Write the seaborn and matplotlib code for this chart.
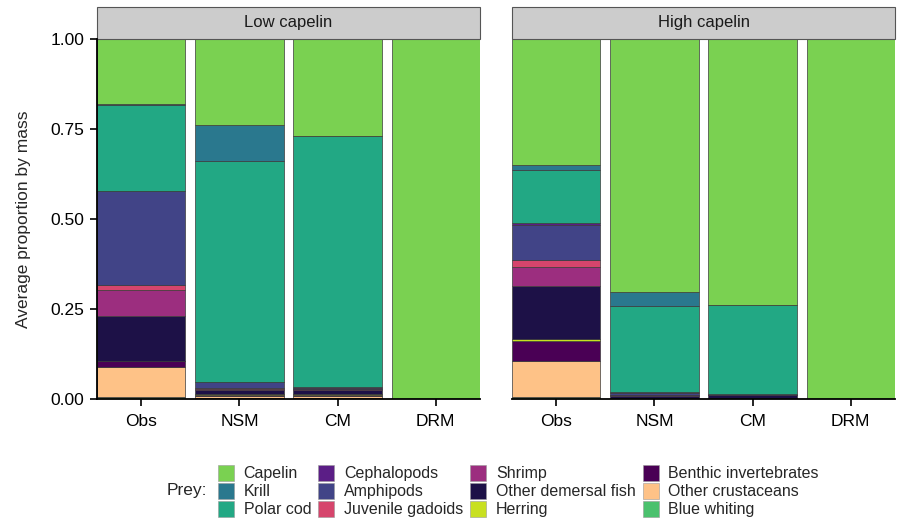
import matplotlib
matplotlib.use("Agg")
import matplotlib.pyplot as plt
from matplotlib.patches import Rectangle, Patch
import pandas as pd
import seaborn as sns

# Prey groups (legend order; first one sits on top of each stack)
prey = ["Capelin", "Krill", "Polar cod", "Cephalopods", "Amphipods",
        "Juvenile gadoids", "Shrimp", "Other demersal fish", "Herring",
        "Benthic invertebrates", "Other crustaceans", "Blue whiting"]
prey_colors = ["#7AD151", "#2A788E", "#22A884", "#5B1E86", "#414487",
               "#D6456C", "#9C2E7F", "#1D1147", "#C8E020", "#4A0055",
               "#FEC287", "#4AC16D"]

models = ["Obs", "NSM", "CM", "DRM"]
scenarios = ["Low capelin", "High capelin"]

# Average proportion by mass, one list per model, values in prey order
low_obs = [0.180, 0.002, 0.240, 0.000, 0.260, 0.016, 0.072, 0.125, 0.000, 0.017, 0.083, 0.005]
low_nsm = [0.240, 0.100, 0.612, 0.002, 0.016, 0.001, 0.005, 0.009, 0.005, 0.001, 0.006, 0.003]
low_cm = [0.270, 0.000, 0.697, 0.003, 0.001, 0.001, 0.003, 0.010, 0.005, 0.001, 0.006, 0.003]
low_drm = [1.000, 0.000, 0.000, 0.000, 0.000, 0.000, 0.000, 0.000, 0.000, 0.000, 0.000, 0.000]

high_obs = [0.350, 0.014, 0.146, 0.007, 0.097, 0.020, 0.052, 0.146, 0.006, 0.057, 0.099, 0.006]
high_nsm = [0.704, 0.039, 0.237, 0.003, 0.006, 0.001, 0.002, 0.005, 0.000, 0.001, 0.001, 0.001]
high_cm = [0.739, 0.000, 0.248, 0.001, 0.001, 0.000, 0.001, 0.008, 0.000, 0.001, 0.001, 0.000]
high_drm = [1.000, 0.000, 0.000, 0.000, 0.000, 0.000, 0.000, 0.000, 0.000, 0.000, 0.000, 0.000]

diets = {
    "Low capelin": [low_obs, low_nsm, low_cm, low_drm],
    "High capelin": [high_obs, high_nsm, high_cm, high_drm],
}

rows = []
for scen in scenarios:
    for model, vals in zip(models, diets[scen]):
        for p, v in zip(prey, vals):
            rows.append({"scenario": scen, "model": model, "prey": p, "prop": v})
df = pd.DataFrame(rows)
df["model"] = pd.Categorical(df["model"], categories=models, ordered=True)

sns.set_theme(style="ticks")
plt.rcParams["font.family"] = ["Liberation Sans", "DejaVu Sans"]
plt.rcParams["axes.edgecolor"] = "black"
plt.rcParams["xtick.color"] = "black"
plt.rcParams["ytick.color"] = "black"

W, H = 898, 519
fig = plt.figure(figsize=(W / 100, H / 100), dpi=100)

panel_lefts = [97, 512]
panel_width = 383
panel_top, panel_bottom = 39, 399
strip_h = 32

palette = dict(zip(prey, prey_colors))

for i, scen in enumerate(scenarios):
    ax = fig.add_axes([panel_lefts[i] / W, (H - panel_bottom) / H,
                       panel_width / W, (panel_bottom - panel_top) / H])
    sub = df[(df["scenario"] == scen) & (df["prop"] > 0)]
    sns.histplot(data=sub, x="model", weights="prop", hue="prey",
                 hue_order=prey, palette=palette, multiple="stack",
                 discrete=True, shrink=0.9, alpha=1, edgecolor="#3a3a3a",
                 linewidth=0.5, legend=False, ax=ax)
    ax.set_xlim(-0.45, 3.45)
    ax.set_ylim(0, 1)
    ax.set_xticks(range(len(models)))
    ax.set_xticklabels(models)
    ax.set_xlabel("")
    ax.tick_params(axis="both", length=5, width=1.2, labelsize=12.5,
                   colors="black")
    ax.tick_params(axis="x", pad=6)
    ax.tick_params(axis="y", pad=4)
    sns.despine(ax=ax)
    ax.spines["bottom"].set_linewidth(1.3)
    if i == 0:
        ax.set_yticks([0, 0.25, 0.5, 0.75, 1.0])
        ax.set_yticklabels(["0.00", "0.25", "0.50", "0.75", "1.00"])
        ax.spines["left"].set_linewidth(1.3)
        ax.set_ylabel("Average proportion by mass", fontsize=12.5, labelpad=14)
    else:
        ax.spines["left"].set_visible(False)
        ax.set_yticks([])
        ax.set_ylabel("")
    # facet strip
    sh = strip_h / (panel_bottom - panel_top)
    ax.add_patch(Rectangle((0, 1), 1, sh, transform=ax.transAxes,
                           facecolor="#CCCCCC", edgecolor="#555555",
                           linewidth=0.8, clip_on=False))
    ax.text(0.5, 1 + sh / 2, scen, transform=ax.transAxes, ha="center",
            va="center", fontsize=12, color="#1a1a1a")

handles = [Patch(facecolor=c, edgecolor="#9a9a9a", linewidth=0.4, label=p)
           for p, c in zip(prey, prey_colors)]
leg = fig.legend(handles=handles, ncol=4, loc="center left",
                 bbox_to_anchor=(218 / W, (H - 491) / H), frameon=False,
                 fontsize=11.5, handlelength=1.0, handleheight=1.15,
                 handletextpad=0.6, columnspacing=0.45, labelspacing=0.1,
                 borderpad=0, borderaxespad=0)
fig.text(167 / W, (H - 491) / H, "Prey:", ha="left", va="center",
         fontsize=12.5)

fig.savefig("out.png", dpi=100)
